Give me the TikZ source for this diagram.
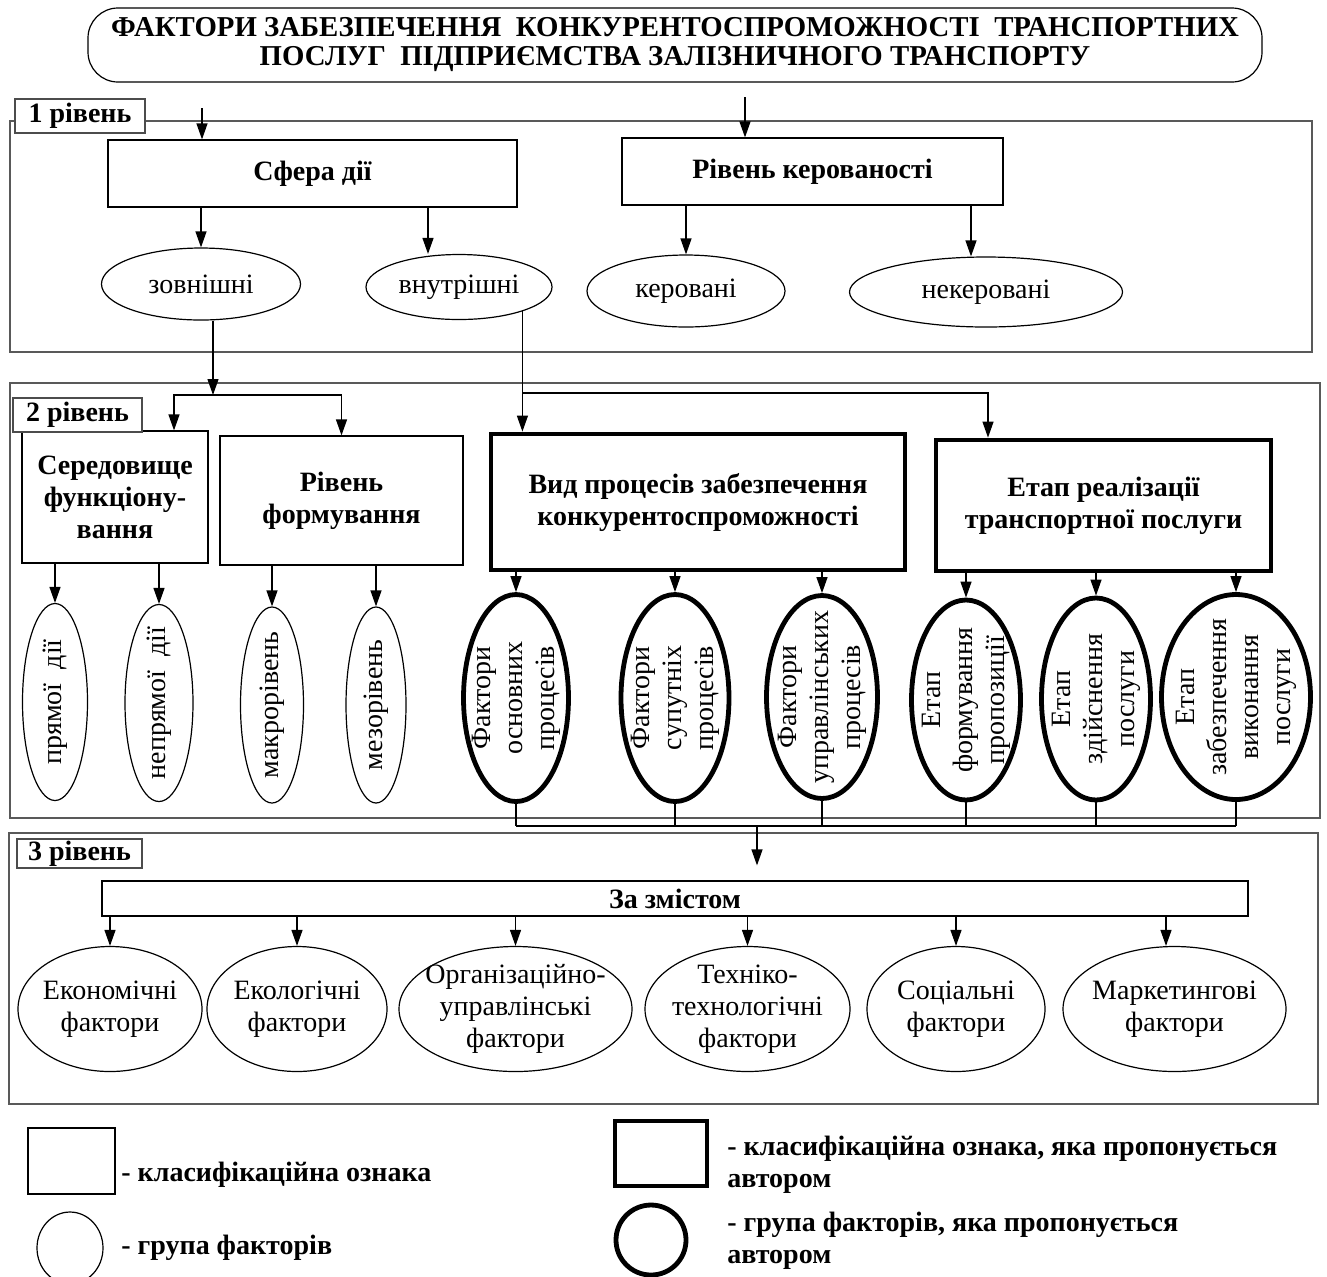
\documentclass[tikz,border=0pt]{standalone}
\usepackage{fontspec}
\setmainfont{Liberation Serif}
\usepackage{graphicx}
\usetikzlibrary{shapes.geometric,arrows.meta}

\begin{document}
\begin{tikzpicture}[x=0.5pt,y=-0.5pt,font=\fontsize{14}{16}\selectfont,every label/.style={align=center}]
        \tikzstyle{sign} = [rectangle, draw, line width=0.6pt, align=center, font=\fontsize{14}{16}\selectfont\bfseries]
        \tikzstyle{newsign} = [sign, line width=2.4pt]
        \tikzstyle{grp} = [ellipse, draw, line width=0.6pt, inner sep=0pt]
        \tikzstyle{newgrp} = [grp, line width=2.4pt]
        \tikzstyle{level} = [draw=black!65, line width=0.8pt]
        \tikzstyle{lvlabel} = [rectangle, draw=black!70, fill=white, line width=0.8pt, inner sep=0pt, font=\fontsize{14}{16}\selectfont\bfseries]
        \tikzstyle{legtext} = [anchor=west, align=left, inner sep=0pt, font=\fontsize{14}{16}\selectfont\bfseries]
        \tikzstyle{arrow} = [line width=0.6pt,-{Triangle[length=8pt,width=5.5pt]}]
        \tikzstyle{bus} = [line width=0.6pt]

        \useasboundingbox (0,0) rectangle (1327,1276);

        % title
        \node (title) [rectangle, draw, rounded corners=15pt, line width=0.6pt, minimum width=587pt, minimum height=37pt, align=center, font=\fontsize{14.4}{14.5}\selectfont\bfseries] at (675,45) {ФАКТОРИ ЗАБЕЗПЕЧЕННЯ\ \ КОНКУРЕНТОСПРОМОЖНОСТІ\ \ ТРАНСПОРТНИХ\\ПОСЛУГ\ \ ПІДПРИЄМСТВА ЗАЛІЗНИЧНОГО ТРАНСПОРТУ};

        % level frames
        \draw[level] (10,121) rectangle (1312,352);
        \draw[level] (10,383) rectangle (1320,818);
        \draw[level] (9,833) rectangle (1318,1104);

        % 1 level
        \node (sfera) [sign, minimum width=204.5pt, minimum height=33.5pt] at (312.5,173.5) {Сфера дії};
        \node (rivker) [sign, minimum width=190.5pt, minimum height=33.5pt] at (812.5,171.5) {Рівень керованості};
        \node (zovn) [grp, minimum width=99.5pt, minimum height=36pt, label=center:зовнішні] at (201,284) {};
        \node (vnutr) [grp, minimum width=93pt, minimum height=32.5pt, label=center:внутрішні] at (459,287) {};
        \node (ker) [grp, minimum width=99pt, minimum height=36pt, label=center:керовані] at (686,291) {};
        \node (neker) [grp, minimum width=136.5pt, minimum height=35pt, label=center:некеровані] at (986,292) {};
        \node (lab1) [lvlabel, minimum width=65pt, minimum height=17pt] at (80,116) {1 рівень};

        % 2 level
        \node (ser) [sign, minimum width=93pt, minimum height=66pt] at (115,497) {Середовище\\функціону-\\вання};
        \node (rivf) [sign, minimum width=121.5pt, minimum height=64.5pt] at (341.5,500.5) {Рівень\\формування};
        \node (vid) [newsign, minimum width=207pt, minimum height=68pt] at (698,502) {Вид процесів забезпечення\\конкурентоспроможності};
        \node (etap) [newsign, minimum width=167.5pt, minimum height=65.5pt] at (1103.5,505.5) {Етап реалізації\\транспортної послуги};
        \node (lab2) [lvlabel, minimum width=64.5pt, minimum height=17pt] at (77.5,415) {2 рівень};

        \node (pd) [grp, minimum width=32.5pt, minimum height=98.5pt, label={[rotate=90]center:прямої\ \ дії}] at (55,702) {};
        \node (npd) [grp, minimum width=34pt, minimum height=98.5pt, label={[rotate=90]center:непрямої\ \ дії}] at (159,703) {};
        \node (makro) [grp, minimum width=31.5pt, minimum height=98pt, label={[rotate=90]center:макрорівень}] at (272,705) {};
        \node (mezo) [grp, minimum width=30pt, minimum height=98pt, label={[rotate=90]center:мезорівень}] at (376,705) {};
        \node (fo) [newgrp, minimum width=52.5pt, minimum height=103.5pt, label={[rotate=90]center:{Фактори\\основних\\процесів}}] at (516,698) {};
        \node (fs) [newgrp, minimum width=54pt, minimum height=103.5pt, label={[rotate=90]center:{Фактори\\супутніх\\процесів}}] at (675,698) {};
        \node (fu) [newgrp, minimum width=55.5pt, minimum height=101.5pt, label={[rotate=90]center:{Фактори\\управлінських\\процесів}}] at (822,697) {};
        \node (ef) [newgrp, minimum width=54.5pt, minimum height=100pt, label={[rotate=90]center:{Етап\\формування\\пропозиції}}] at (966,700) {};
        \node (ez) [newgrp, minimum width=54.5pt, minimum height=101pt, label={[rotate=90]center:{Етап\\здійснення\\послуги}}] at (1096,699) {};
        \node (ev) [newgrp, minimum width=74.5pt, minimum height=102.5pt, label={[rotate=90]center:{Етап\\забезпечення\\виконання\\послуги}}] at (1236,697) {};

        % 3 level
        \node (zazm) [sign, minimum width=573pt, minimum height=17.5pt, inner sep=0pt] at (675,898.5) {За змістом};
        \node (lab3) [lvlabel, minimum width=62.5pt, minimum height=14.5pt] at (79.5,853.5) {3 рівень};
        \node (eko) [grp, minimum width=92pt, minimum height=62.5pt, label={center:{Економічні\\фактори}}] at (110,1009) {};
        \node (ekol) [grp, minimum width=90pt, minimum height=62.5pt, label={center:{Екологічні\\фактори}}] at (297,1009) {};
        \node (org) [grp, minimum width=116.5pt, minimum height=62.5pt, label={center:{Організаційно-\\управлінські\\фактори}}] at (515.5,1009) {};
        \node (tech) [grp, minimum width=102.5pt, minimum height=62.5pt, label={center:{Техніко-\\технологічні\\фактори}}] at (747.5,1009) {};
        \node (soc) [grp, minimum width=89pt, minimum height=62.5pt, label={center:{Соціальні\\фактори}}] at (956,1009) {};
        \node (mark) [grp, minimum width=111.5pt, minimum height=62.5pt, label={center:{Маркетингові\\фактори}}] at (1174.5,1009) {};

        % legend
        \node (legsign) [rectangle, draw, line width=0.6pt, minimum width=43.5pt, minimum height=33pt] at (71.5,1161) {};
        \node (legsignt) [legtext] at (121,1175) {- класифікаційна ознака};
        \node (leggrp) [grp, minimum width=33pt, minimum height=36pt] at (70,1248) {};
        \node (leggrpt) [legtext] at (121,1248) {- група факторів};
        \node (legnew) [rectangle, draw, line width=2.4pt, minimum width=46pt, minimum height=32.5pt] at (661,1153.5) {};
        \node (legnewt) [legtext] at (727,1165) {- класифікаційна ознака, яка пропонується\\автором};
        \node (legngrp) [newgrp, minimum width=35pt, minimum height=35pt] at (651,1240) {};
        \node (legngrpt) [legtext] at (727,1241) {- група факторів, яка пропонується\\автором};

        % connectors 1 level
        \coordinate (in1) at (202,108);
        \coordinate (in2) at (745,97);
        \draw[arrow] (in1) -- (in1 |- sfera.north);
        \draw[arrow] (in2) -- (in2 |- rivker.north);
        \draw[arrow] (sfera.south -| zovn.north) -- (zovn.north);
        \draw[arrow] (428,0 |- sfera.south) -- (428,0 |- vnutr.north);
        \draw[arrow] (rivker.south -| ker.north) -- (ker.north);
        \draw[arrow] (971,0 |- rivker.south) -- (971,0 |- neker.north);

        % connectors 1 -> 2 level
        \coordinate (split1) at (213,395);
        \draw[arrow] (split1 |- zovn.south) -- (split1);
        \draw[arrow] (split1) -| (174,0 |- ser.north);
        \draw[arrow] (split1) -| (rivf.north);
        \coordinate (split2) at (vnutr.-21 |- 0,393);
        \draw[arrow] (vnutr.-21) -- (vnutr.-21 |- vid.north);
        \draw[arrow] (split2) -| (988,0 |- etap.north);

        % connectors 2 level
        \foreach \e in {pd,npd} \draw[arrow] (ser.south -| \e.north) -- (\e.north);
        \foreach \e in {makro,mezo} \draw[arrow] (rivf.south -| \e.north) -- (\e.north);
        \foreach \e in {fo,fs,fu} \draw[arrow] (vid.south -| \e.north) -- (\e.north);
        \foreach \e in {ef,ez,ev} \draw[arrow] (etap.south -| \e.north) -- (\e.north);

        % connectors 2 -> 3 level
        \coordinate (bus) at (757,826);
        \foreach \e in {fo,fs,fu,ef,ez,ev} \draw[bus] (\e.south) -- (\e.south |- bus);
        \draw[bus] (fo.south |- bus) -- (ev.south |- bus);
        \draw[arrow, shorten >=7.5pt] (bus) -- (bus |- zazm.north);

        % connectors 3 level
        \foreach \e in {eko,ekol,org,tech,soc} \draw[arrow] (zazm.south -| \e.north) -- (\e.north);
        \draw[arrow] (1166,0 |- zazm.south) -- (1166,0 |- mark.north);
    \end{tikzpicture}
\end{document}
